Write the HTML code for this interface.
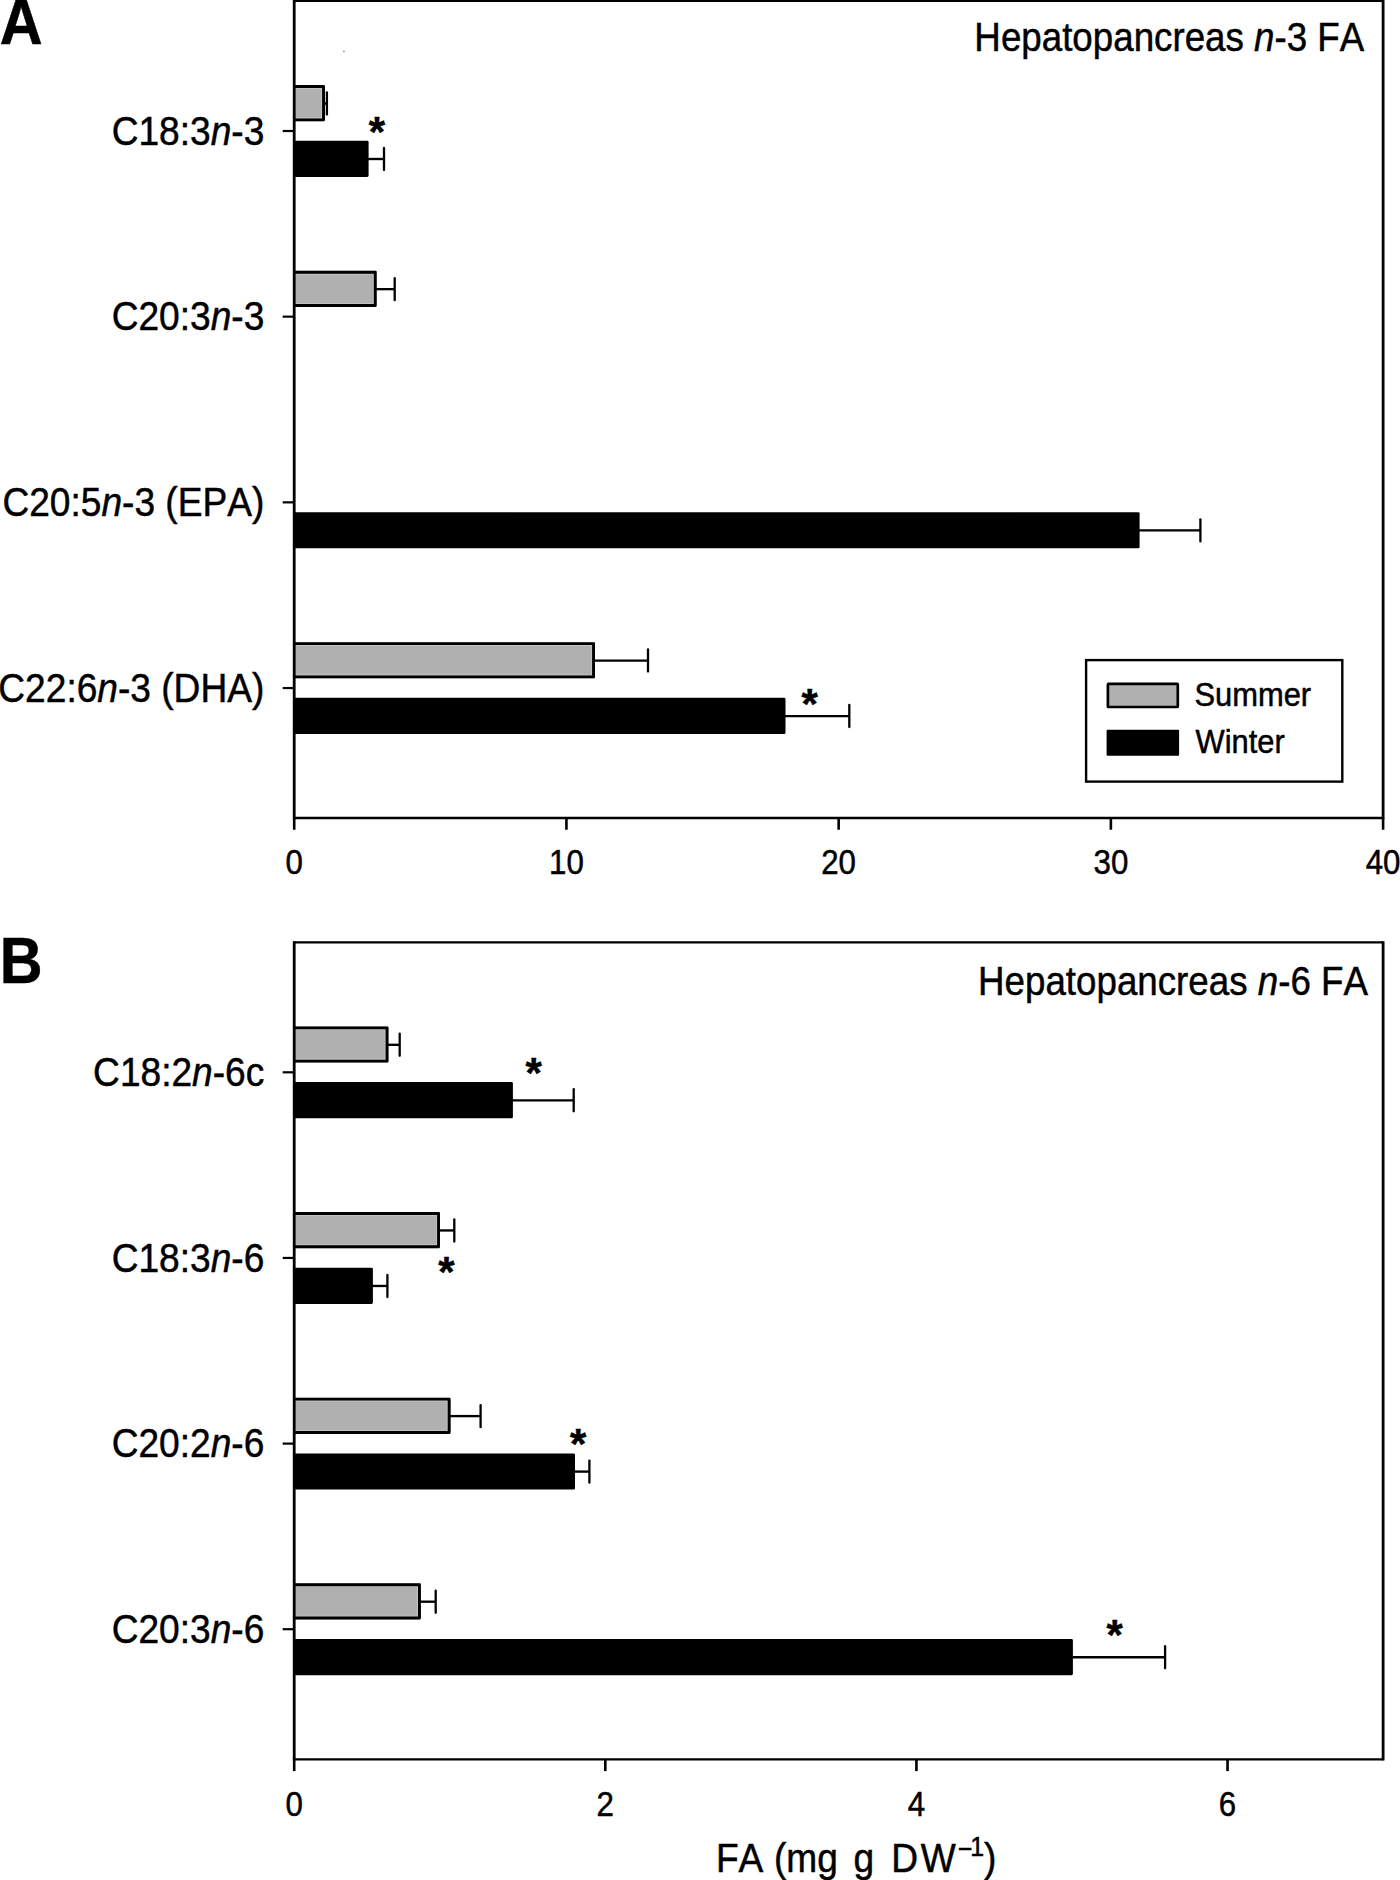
<!DOCTYPE html>
<html lang="en"><head><meta charset="utf-8"><title>Hepatopancreas n-3 and n-6 fatty acids</title>
<style>html,body{margin:0;padding:0;background:#fff;}body{width:1400px;height:1880px;overflow:hidden;}svg{display:block;}text{font-family:'Liberation Sans', Arial, Helvetica, sans-serif;fill:#000;stroke:#000;stroke-width:0.5px;font-kerning:none;}</style>
</head><body>
<svg width="1400" height="1880" viewBox="0 0 1400 1880">
<rect width="1400" height="1880" fill="#fff"/>
<line x1="282.7" y1="131.0" x2="294.2" y2="131.0" stroke="#000" stroke-width="2.2"/>
<line x1="282.7" y1="316.65" x2="294.2" y2="316.65" stroke="#000" stroke-width="2.2"/>
<line x1="282.7" y1="502.35" x2="294.2" y2="502.35" stroke="#000" stroke-width="2.2"/>
<line x1="282.7" y1="688.05" x2="294.2" y2="688.05" stroke="#000" stroke-width="2.2"/>
<line x1="294.2" y1="817.95" x2="294.2" y2="829.75" stroke="#000" stroke-width="2.6"/>
<text transform="translate(294.2 874.1) scale(0.9005763688760806 1)" font-size="34.7" text-anchor="middle">0</text>
<line x1="566.425" y1="817.95" x2="566.425" y2="829.75" stroke="#000" stroke-width="2.6"/>
<text transform="translate(566.4 874.1) scale(0.9005763688760806 1)" font-size="34.7" text-anchor="middle">10</text>
<line x1="838.6499999999999" y1="817.95" x2="838.6499999999999" y2="829.75" stroke="#000" stroke-width="2.6"/>
<text transform="translate(838.6 874.1) scale(0.9005763688760806 1)" font-size="34.7" text-anchor="middle">20</text>
<line x1="1110.875" y1="817.95" x2="1110.875" y2="829.75" stroke="#000" stroke-width="2.6"/>
<text transform="translate(1110.9 874.1) scale(0.9005763688760806 1)" font-size="34.7" text-anchor="middle">30</text>
<line x1="1383.1" y1="817.95" x2="1383.1" y2="829.75" stroke="#000" stroke-width="2.6"/>
<text transform="translate(1383.1 874.1) scale(0.9005763688760806 1)" font-size="34.7" text-anchor="middle">40</text>
<rect x="294.2" y="85.10" width="30.80" height="36.2" fill="#b0b0b0"/>
<path d="M294.2 88.40 H321.70 V118.00 H294.2" fill="none" stroke="#c6c6c6" stroke-width="0.9"/>
<path d="M294.2 86.55 H323.55 V119.85 H294.2" fill="none" stroke="#000" stroke-width="2.9" stroke-linejoin="round"/>
<path d="M325 103.5 H326.9" fill="none" stroke="#000" stroke-width="2.35"/>
<path d="M326.9 92.45 V114.55" fill="none" stroke="#000" stroke-width="2.3" stroke-linecap="round"/>
<rect x="294.2" y="140.80" width="74.40" height="36.2" rx="1.4" fill="#000"/>
<path d="M368 159.0 H384.0" fill="none" stroke="#000" stroke-width="2.35"/>
<path d="M384.0 147.95 V170.05" fill="none" stroke="#000" stroke-width="2.3" stroke-linecap="round"/>
<rect x="294.2" y="270.75" width="82.50" height="36.2" fill="#b0b0b0"/>
<path d="M294.2 274.05 H373.40 V303.65 H294.2" fill="none" stroke="#c6c6c6" stroke-width="0.9"/>
<path d="M294.2 272.20 H375.25 V305.50 H294.2" fill="none" stroke="#000" stroke-width="2.9" stroke-linejoin="round"/>
<path d="M376 289.15 H394.7" fill="none" stroke="#000" stroke-width="2.35"/>
<path d="M394.7 278.10 V300.20" fill="none" stroke="#000" stroke-width="2.3" stroke-linecap="round"/>
<rect x="294.2" y="512.15" width="845.40" height="36.2" rx="1.4" fill="#000"/>
<path d="M1139 530.35 H1200.4" fill="none" stroke="#000" stroke-width="2.35"/>
<path d="M1200.4 519.30 V541.40" fill="none" stroke="#000" stroke-width="2.3" stroke-linecap="round"/>
<rect x="294.2" y="642.15" width="300.80" height="36.2" fill="#b0b0b0"/>
<path d="M294.2 645.45 H591.70 V675.05 H294.2" fill="none" stroke="#c6c6c6" stroke-width="0.9"/>
<path d="M294.2 643.60 H593.55 V676.90 H294.2" fill="none" stroke="#000" stroke-width="2.9" stroke-linejoin="round"/>
<path d="M595 660.55 H648.0" fill="none" stroke="#000" stroke-width="2.35"/>
<path d="M648.0 649.50 V671.60" fill="none" stroke="#000" stroke-width="2.3" stroke-linecap="round"/>
<rect x="294.2" y="697.85" width="491.30" height="36.2" rx="1.4" fill="#000"/>
<path d="M785 716.05 H849.3" fill="none" stroke="#000" stroke-width="2.35"/>
<path d="M849.3 705.00 V727.10" fill="none" stroke="#000" stroke-width="2.3" stroke-linecap="round"/>
<path d="M294.2 -0.4750000000000001 V819.125 M1383.1 -0.4750000000000001 V819.125" fill="none" stroke="#000" stroke-width="2.8"/>
<path d="M294.2 0.7 H1383.1 M294.2 817.95 H1383.1" fill="none" stroke="#000" stroke-width="2.35"/>
<text transform="translate(376.9 145.5) scale(0.975 1)" font-size="43" font-weight="bold" text-anchor="middle" stroke="none">*</text>
<text transform="translate(809.65 717.5) scale(0.975 1)" font-size="43" font-weight="bold" text-anchor="middle" stroke="none">*</text>
<text transform="translate(264.3 144.5) scale(0.8983050847457628 1)" font-size="41.3" text-anchor="end">C18:3<tspan font-style="italic">n</tspan>-3</text>
<text transform="translate(264.3 330.1) scale(0.8983050847457628 1)" font-size="41.3" text-anchor="end">C20:3<tspan font-style="italic">n</tspan>-3</text>
<text transform="translate(264.3 515.9) scale(0.8983050847457628 1)" font-size="41.3" text-anchor="end">C20:5<tspan font-style="italic">n</tspan>-3 (EPA)</text>
<text transform="translate(264.3 701.5) scale(0.8983050847457628 1)" font-size="41.3" text-anchor="end">C22:6<tspan font-style="italic">n</tspan>-3 (DHA)</text>
<text transform="translate(1364.3 50.6) scale(0.8893 1)" font-size="41.3" text-anchor="end">Hepatopancreas <tspan font-style="italic">n</tspan>-3 FA</text>
<text transform="translate(-0.2 44) scale(0.925 1)" font-size="64.2" font-weight="bold">A</text>
<rect x="1086.1" y="660.1" width="256.2" height="121.5" fill="#fff" stroke="#000" stroke-width="2.4"/>
<rect x="1107.9" y="683.8" width="69.9" height="23.2" rx="0.6" fill="#b0b0b0" stroke="#000" stroke-width="2.7"/>
<rect x="1106.6" y="729.8" width="72.5" height="26" rx="1" fill="#000"/>
<text transform="translate(1194.4 706.4) scale(0.930722891566265 1)" font-size="33.2">Summer</text>
<text transform="translate(1195.5 753.4) scale(0.930722891566265 1)" font-size="33.2">Winter</text>
<line x1="282.7" y1="1072.3" x2="294.2" y2="1072.3" stroke="#000" stroke-width="2.2"/>
<line x1="282.7" y1="1257.95" x2="294.2" y2="1257.95" stroke="#000" stroke-width="2.2"/>
<line x1="282.7" y1="1443.6" x2="294.2" y2="1443.6" stroke="#000" stroke-width="2.2"/>
<line x1="282.7" y1="1629.2" x2="294.2" y2="1629.2" stroke="#000" stroke-width="2.2"/>
<line x1="294.2" y1="1759.3" x2="294.2" y2="1771.1" stroke="#000" stroke-width="2.6"/>
<text transform="translate(294.2 1815.6) scale(0.9005763688760806 1)" font-size="34.7" text-anchor="middle">0</text>
<line x1="605.3142857142857" y1="1759.3" x2="605.3142857142857" y2="1771.1" stroke="#000" stroke-width="2.6"/>
<text transform="translate(605.3 1815.6) scale(0.9005763688760806 1)" font-size="34.7" text-anchor="middle">2</text>
<line x1="916.4285714285713" y1="1759.3" x2="916.4285714285713" y2="1771.1" stroke="#000" stroke-width="2.6"/>
<text transform="translate(916.4 1815.6) scale(0.9005763688760806 1)" font-size="34.7" text-anchor="middle">4</text>
<line x1="1227.5428571428572" y1="1759.3" x2="1227.5428571428572" y2="1771.1" stroke="#000" stroke-width="2.6"/>
<text transform="translate(1227.5 1815.6) scale(0.9005763688760806 1)" font-size="34.7" text-anchor="middle">6</text>
<rect x="294.2" y="1026.40" width="94.30" height="36.2" fill="#b0b0b0"/>
<path d="M294.2 1029.70 H385.20 V1059.30 H294.2" fill="none" stroke="#c6c6c6" stroke-width="0.9"/>
<path d="M294.2 1027.85 H387.05 V1061.15 H294.2" fill="none" stroke="#000" stroke-width="2.9" stroke-linejoin="round"/>
<path d="M388 1044.8 H399.7" fill="none" stroke="#000" stroke-width="2.35"/>
<path d="M399.7 1033.75 V1055.85" fill="none" stroke="#000" stroke-width="2.3" stroke-linecap="round"/>
<rect x="294.2" y="1082.10" width="218.70" height="36.2" rx="1.4" fill="#000"/>
<path d="M512 1100.3 H573.7" fill="none" stroke="#000" stroke-width="2.35"/>
<path d="M573.7 1089.25 V1111.35" fill="none" stroke="#000" stroke-width="2.3" stroke-linecap="round"/>
<rect x="294.2" y="1212.05" width="145.80" height="36.2" fill="#b0b0b0"/>
<path d="M294.2 1215.35 H436.70 V1244.95 H294.2" fill="none" stroke="#c6c6c6" stroke-width="0.9"/>
<path d="M294.2 1213.50 H438.55 V1246.80 H294.2" fill="none" stroke="#000" stroke-width="2.9" stroke-linejoin="round"/>
<path d="M440 1230.45 H454.3" fill="none" stroke="#000" stroke-width="2.35"/>
<path d="M454.3 1219.40 V1241.50" fill="none" stroke="#000" stroke-width="2.3" stroke-linecap="round"/>
<rect x="294.2" y="1267.75" width="78.70" height="36.2" rx="1.4" fill="#000"/>
<path d="M372 1285.95 H387.4" fill="none" stroke="#000" stroke-width="2.35"/>
<path d="M387.4 1274.90 V1297.00" fill="none" stroke="#000" stroke-width="2.3" stroke-linecap="round"/>
<rect x="294.2" y="1397.70" width="156.40" height="36.2" fill="#b0b0b0"/>
<path d="M294.2 1401.00 H447.30 V1430.60 H294.2" fill="none" stroke="#c6c6c6" stroke-width="0.9"/>
<path d="M294.2 1399.15 H449.15 V1432.45 H294.2" fill="none" stroke="#000" stroke-width="2.9" stroke-linejoin="round"/>
<path d="M450 1416.1 H480.6" fill="none" stroke="#000" stroke-width="2.35"/>
<path d="M480.6 1405.05 V1427.15" fill="none" stroke="#000" stroke-width="2.3" stroke-linecap="round"/>
<rect x="294.2" y="1453.40" width="280.80" height="36.2" rx="1.4" fill="#000"/>
<path d="M575 1471.6 H589.4" fill="none" stroke="#000" stroke-width="2.35"/>
<path d="M589.4 1460.55 V1482.65" fill="none" stroke="#000" stroke-width="2.3" stroke-linecap="round"/>
<rect x="294.2" y="1583.30" width="126.70" height="36.2" fill="#b0b0b0"/>
<path d="M294.2 1586.60 H417.60 V1616.20 H294.2" fill="none" stroke="#c6c6c6" stroke-width="0.9"/>
<path d="M294.2 1584.75 H419.45 V1618.05 H294.2" fill="none" stroke="#000" stroke-width="2.9" stroke-linejoin="round"/>
<path d="M420 1601.7 H435.7" fill="none" stroke="#000" stroke-width="2.35"/>
<path d="M435.7 1590.65 V1612.75" fill="none" stroke="#000" stroke-width="2.3" stroke-linecap="round"/>
<rect x="294.2" y="1639.00" width="778.70" height="36.2" rx="1.4" fill="#000"/>
<path d="M1072 1657.2 H1165.1" fill="none" stroke="#000" stroke-width="2.35"/>
<path d="M1165.1 1646.15 V1668.25" fill="none" stroke="#000" stroke-width="2.3" stroke-linecap="round"/>
<path d="M294.2 941.225 V1760.475 M1383.1 941.225 V1760.475" fill="none" stroke="#000" stroke-width="2.8"/>
<path d="M294.2 942.4 H1383.1 M294.2 1759.3 H1383.1" fill="none" stroke="#000" stroke-width="2.35"/>
<text transform="translate(533.6 1086.6) scale(0.975 1)" font-size="43" font-weight="bold" text-anchor="middle" stroke="none">*</text>
<text transform="translate(446.45 1286.2) scale(0.975 1)" font-size="43" font-weight="bold" text-anchor="middle" stroke="none">*</text>
<text transform="translate(578.25 1457.6) scale(0.975 1)" font-size="43" font-weight="bold" text-anchor="middle" stroke="none">*</text>
<text transform="translate(1114.7 1648.7) scale(0.975 1)" font-size="43" font-weight="bold" text-anchor="middle" stroke="none">*</text>
<text transform="translate(264.3 1085.8) scale(0.8983050847457628 1)" font-size="41.3" text-anchor="end">C18:2<tspan font-style="italic">n</tspan>-6c</text>
<text transform="translate(264.3 1271.5) scale(0.8983050847457628 1)" font-size="41.3" text-anchor="end">C18:3<tspan font-style="italic">n</tspan>-6</text>
<text transform="translate(264.3 1457.1) scale(0.8983050847457628 1)" font-size="41.3" text-anchor="end">C20:2<tspan font-style="italic">n</tspan>-6</text>
<text transform="translate(264.3 1642.7) scale(0.8983050847457628 1)" font-size="41.3" text-anchor="end">C20:3<tspan font-style="italic">n</tspan>-6</text>
<text transform="translate(1368.0 995.3) scale(0.8893 1)" font-size="41.3" text-anchor="end">Hepatopancreas <tspan font-style="italic">n</tspan>-6 FA</text>
<text transform="translate(-0.3 982.8) scale(0.925 1)" font-size="64.2" font-weight="bold">B</text>
<text transform="translate(0 1871.5) scale(0.9229 1)" font-size="40.2"><tspan x="775.72">FA </tspan><tspan x="838.57">(mg </tspan><tspan x="924.93">g </tspan><tspan x="965.67">D</tspan><tspan x="997.63">W</tspan><tspan font-size="27.0" dy="-14.0" x="1038.05">−</tspan><tspan font-size="27.0" dy="-1.7" x="1051.38">1</tspan><tspan dy="15.7" x="1066.11" font-size="40.2">)</tspan></text>
<circle cx="343.9" cy="51.4" r="0.85" fill="#909090"/>
</svg></body></html>
